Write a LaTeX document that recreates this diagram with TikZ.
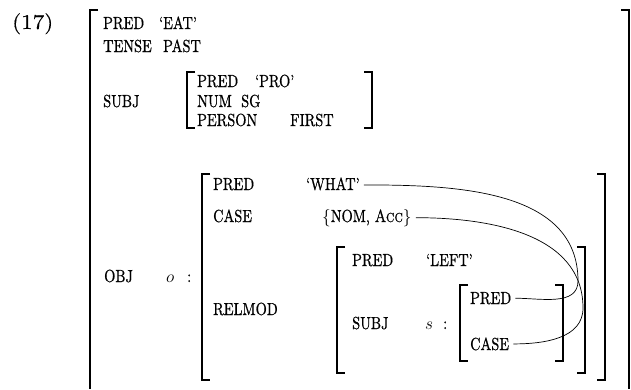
\documentclass[tikz,border=0pt]{standalone}
\usepackage{fontspec}
\setmainfont{lmroman10-regular.otf}[SmallCapsFont=lmromancaps10-regular.otf,SmallCapsFeatures={FakeStretch=0.82,FakeBold=0.6},FakeStretch=0.82,FakeBold=0.6]
\newfontfamily\exfont{lmroman10-regular.otf}[FakeStretch=1.1,FakeBold=0.4]
\begin{document}
\begin{tikzpicture}[x=1pt,y=-1pt,
  lbl/.style={anchor=base west, inner sep=0pt, font=\fontsize{17.5}{20}\selectfont},
  brk/.style={line width=1.5pt},
  link/.style={line width=0.7pt}]
\useasboundingbox (0,0) rectangle (631,389);
% brackets
\draw[brk] (98,10) -- (90,10) -- (90,389);
\draw[brk] (621,10) -- (629,10) -- (629,389);
\draw[brk] (195,72) -- (187,72) -- (187,128) -- (195,128);
\draw[brk] (364,72) -- (372,72) -- (372,128) -- (364,128);
\draw[brk] (210,174) -- (202,174) -- (202,380) -- (210,380);
\draw[brk] (597,174) -- (605,174) -- (605,380) -- (597,380);
\draw[brk] (345,247) -- (337,247) -- (337,373) -- (345,373);
\draw[brk] (577,247) -- (585,247) -- (585,373) -- (577,373);
\draw[brk] (468,285) -- (460,285) -- (460,361) -- (468,361);
\draw[brk] (555,285) -- (563,285) -- (563,361) -- (555,361);
% texts
\node[lbl, font=\exfont\fontsize{21}{24}\selectfont] (ex) at (12,29) {(17)};
\node[lbl] (pred1) at (103,29) {PRED};
\node[lbl] (eat) at (159,29) {‘EAT’};
\node[lbl] (tense) at (103,52) {TENSE};
\node[lbl] (past) at (163,52) {PAST};
\node[lbl] (subj) at (103,107) {SUBJ};
\node[lbl] (spred) at (197,87) {PRED};
\node[lbl] (pro) at (255,87) {‘PRO’};
\node[lbl] (num) at (197,107) {NUM};
\node[lbl] (sg) at (241,107) {SG};
\node[lbl] (person) at (197,126) {PERSON};
\node[lbl] (first) at (290,126) {FIRST};
\node[lbl] (obj) at (104,282) {OBJ};
\node[lbl] (oname) at (166,282) {$o$};
\node[lbl] (ocolon) at (187,282) {:};
\node[lbl] (opred) at (213,190) {PRED};
\node[lbl] (what) at (306,190) {‘WHAT’};
\node[lbl] (ocase) at (213,222) {CASE};
\node[lbl] (nomacc) at (322,222) {$\{$NOM, \textsc{Acc}$\}$};
\node[lbl] (relmod) at (213,315) {RELMOD};
\node[lbl] (rpred) at (352,266) {PRED};
\node[lbl] (left) at (426,266) {‘LEFT’};
\node[lbl] (rsubj) at (352,329) {SUBJ};
\node[lbl] (sname) at (425,329) {$s$};
\node[lbl] (scolon) at (443,329) {:};
\node[lbl] (ipred) at (470,304) {PRED};
\node[lbl] (icase) at (470,350) {CASE};
% links
\coordinate (apexA) at (578,281);
\coordinate (apexB) at (583,308);
\draw[link] ([xshift=4pt,yshift=-1pt]what.east) to[out=0,in=90] (apexA) to[out=-90,in=0] ([xshift=4pt]ipred.east);
\draw[link] ([xshift=4pt]nomacc.east) to[out=0,in=90] (apexB) to[out=-90,in=0] ([xshift=4pt]icase.east);
\end{tikzpicture}
\end{document}
